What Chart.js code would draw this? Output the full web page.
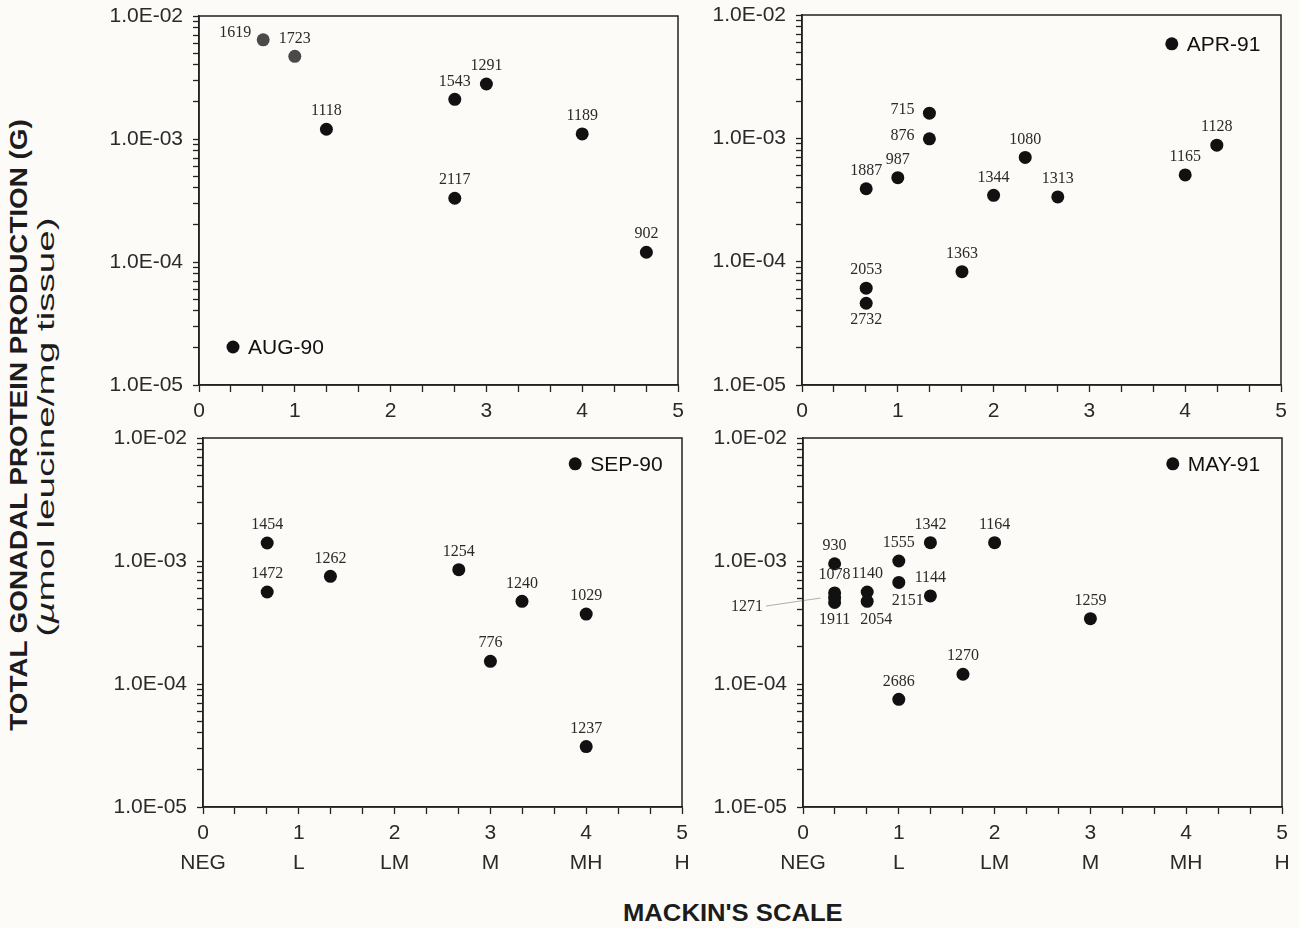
<!DOCTYPE html>
<html><head><meta charset="utf-8">
<script src="https://cdn.jsdelivr.net/npm/chart.js@4.4.1/dist/chart.umd.min.js"></script>
<style>
html,body{margin:0;padding:0;background:#fdfbf8;}
body{width:1299px;height:928px;position:relative;overflow:hidden;font-family:"Liberation Sans",Arial,sans-serif;}
.pc{position:absolute;}
.t{position:absolute;white-space:nowrap;color:#1c1c1c;left:0;top:0;}
</style></head><body>
<div id="yt1" class="t" style="font-weight:bold;font-size:24px;">TOTAL GONADAL PROTEIN PRODUCTION (G)</div>
<div id="yt2" class="t" style="font-size:24px;">(<i>µ</i>mol leucine/mg tissue)</div>
<div id="xt" class="t" style="font-weight:bold;font-size:24px;">MACKIN'S SCALE</div>
<script>
// ---------------- DATA ----------------
const xCategories = ['NEG','L','LM','M','MH','H'];
const xMajorTicks = [0,1,2,3,4,5];
const yDecades = [1e-5,1e-4,1e-3,1e-2];

const aug90Ids = ['1619','1723','1118','1543','1291','2117','1189','902'];
const aug90X   = [0.67,1,1.33,2.67,3,2.67,4,4.67];
const aug90Y   = [6.4e-3,4.7e-3,1.2e-3,2.1e-3,2.8e-3,3.3e-4,1.1e-3,1.2e-4];

const apr91Ids = ['715','876','1887','987','1344','1080','1313','1165','1128','1363','2053','2732'];
const apr91X   = [1.33,1.33,0.67,1,2,2.33,2.67,4,4.33,1.67,0.67,0.67];
const apr91Y   = [1.6e-3,9.9e-4,3.9e-4,4.8e-4,3.45e-4,7.0e-4,3.35e-4,5.05e-4,8.8e-4,8.3e-5,6.1e-5,4.6e-5];

const sep90Ids = ['1454','1472','1262','1254','1240','1029','776','1237'];
const sep90X   = [0.67,0.67,1.33,2.67,3.33,4,3,4];
const sep90Y   = [1.4e-3,5.6e-4,7.5e-4,8.5e-4,4.7e-4,3.7e-4,1.53e-4,3.1e-5];

const may91Ids = ['930','1555','1342','1164','2151','1144','1078','1271','1911','1140','2054','1259','1270','2686'];
const may91X   = [0.33,1,1.33,2,1,1.33,0.33,0.33,0.33,0.67,0.67,3,1.67,1];
const may91Y   = [9.5e-4,1.0e-3,1.41e-3,1.41e-3,6.7e-4,5.2e-4,5.5e-4,5.0e-4,4.6e-4,5.6e-4,4.7e-4,3.4e-4,1.2e-4,7.5e-5];

// ---------------- LABEL PLACEMENT (style) ----------------
const aug90LabelPos = ['al','a','a','a','a','a','a','a'];
const apr91LabelPos = ['l','l','a','a','a','a','a','a','a','a','a','b'];
const sep90LabelPos = ['a','a','a','a','a','a','a','a'];
const may91LabelPos = ['a','a','a','a','br','a','a','L','b','a','br','a','a','a'];
const dimmedPoints = ['1619','1723'];

const labelOffsets = {a:[0,-18], b:[0,17], l:[-27,-3], al:[-28,-7], br:[9,18]};

const TICK_FONT = {family:'"Liberation Sans", Arial, sans-serif', size:21};
const INK = '#222';

function decadeLabel(v){
  const e = Math.round(Math.log10(v));
  const a = Math.abs(e);
  return '1.0E' + (e<0?'-':'+') + (a<10?'0':'') + a;
}

const pointLabelPlugin = {
  id:'pointLabels',
  afterDatasetsDraw(chart){
    const ctx = chart.ctx, ds = chart.data.datasets[0], meta = chart.getDatasetMeta(0);
    ctx.save();
    ctx.font = '16px "Liberation Serif", "Times New Roman", serif';
    ctx.fillStyle = '#2a2a2a';
    ctx.textBaseline = 'middle';
    meta.data.forEach((el,i)=>{
      const p = ds.labelPos[i];
      if(p === 'L'){
        const lx = chart.chartArea.left - 40, ly = el.y + 9;
        ctx.textAlign = 'right';
        ctx.fillText(ds.ids[i], lx, ly);
        ctx.strokeStyle = '#9a9a9a'; ctx.lineWidth = 0.8;
        ctx.beginPath(); ctx.moveTo(lx+3, ly-1); ctx.lineTo(el.x-14, el.y); ctx.stroke();
      } else {
        const o = labelOffsets[p];
        ctx.textAlign = 'center';
        ctx.fillText(ds.ids[i], el.x+o[0], el.y+o[1]);
      }
    });
    ctx.restore();
  }
};

const framePlugin = {
  id:'frame',
  afterDraw(chart){
    const a = chart.chartArea, ctx = chart.ctx;
    ctx.save(); ctx.strokeStyle = INK; ctx.lineWidth = 1.5;
    ctx.strokeRect(a.left, a.top, a.right-a.left, a.bottom-a.top);
    // legend
    const o = chart.options.plugins.frame;
    const mx = a.left + o.fx*(a.right-a.left), my = a.top + o.fy*(a.bottom-a.top);
    ctx.fillStyle = '#111';
    ctx.beginPath(); ctx.arc(mx,my,6.5,0,Math.PI*2); ctx.fill();
    ctx.font = '21px "Liberation Sans", Arial, sans-serif';
    ctx.textAlign = 'left'; ctx.textBaseline = 'middle';
    ctx.fillText(o.name, mx+15, my+1);
    ctx.restore();
  }
};

const panels = [
  {name:'AUG-90', ids:aug90Ids, xs:aug90X, ys:aug90Y, pos:aug90LabelPos, area:{l:199,r:678,t:16,b:385}, legend:[0.071,0.897], cats:false},
  {name:'APR-91', ids:apr91Ids, xs:apr91X, ys:apr91Y, pos:apr91LabelPos, area:{l:802,r:1281,t:15,b:385}, legend:[0.772,0.078], cats:false},
  {name:'SEP-90', ids:sep90Ids, xs:sep90X, ys:sep90Y, pos:sep90LabelPos, area:{l:203,r:682,t:438,b:807}, legend:[0.777,0.070], cats:true},
  {name:'MAY-91', ids:may91Ids, xs:may91X, ys:may91Y, pos:may91LabelPos, area:{l:803,r:1282,t:438,b:807}, legend:[0.772,0.070], cats:true},
];

const PAD_L = 100, PAD_T = 26, PAD_R = 17, PAD_B = 75;

panels.forEach((p,k)=>{
  const div = document.createElement('div');
  div.className = 'pc';
  const w = (p.area.r - p.area.l) + PAD_L + PAD_R;
  const h = (p.area.b - p.area.t) + PAD_T + PAD_B;
  div.style.left = (p.area.l - PAD_L) + 'px';
  div.style.top = (p.area.t - PAD_T) + 'px';
  div.style.width = w + 'px'; div.style.height = h + 'px';
  const cv = document.createElement('canvas');
  cv.width = w; cv.height = h; cv.style.width = w+'px'; cv.style.height = h+'px';
  div.appendChild(cv);
  document.body.appendChild(div);

  const pts = p.xs.map((x,i)=>({x:x, y:p.ys[i]}));
  new Chart(cv, {
    type:'scatter',
    data:{datasets:[{
      data:pts, ids:p.ids, labelPos:p.pos,
      pointRadius:6.5, pointHoverRadius:6.5, borderWidth:0,
      pointBackgroundColor: p.ids.map(id => dimmedPoints.includes(id) ? '#4a4a4a' : '#111'),
      pointBorderWidth:0
    }]},
    options:{
      responsive:false, animation:false, devicePixelRatio:1,
      layout:{padding:{left:0, top:PAD_T, right:PAD_R, bottom:0}},
      plugins:{legend:{display:false}, tooltip:{enabled:false},
        frame:{name:p.name, fx:p.legend[0], fy:p.legend[1]}},
      scales:{
        x:{type:'linear', min:0, max:5,
          afterFit(s){ s.height = PAD_B; },
          afterBuildTicks(s){
            const t = [];
            for(let i=0;i<xMajorTicks.length-1;i++){
              for(let j=0;j<3;j++) t.push({value: xMajorTicks[i] + j/3});
            }
            t.push({value: xMajorTicks[xMajorTicks.length-1]});
            s.ticks = t;
          },
          grid:{drawOnChartArea:false, drawTicks:true, tickLength:7, color:INK, tickColor:INK, tickWidth:1.3},
          border:{display:true, color:INK, width:1.5},
          ticks:{autoSkip:false, maxRotation:0, padding:4, color:'#2a2a2a',
            font:Object.assign({}, TICK_FONT, {lineHeight:30/21}),
            callback(v){
              const r = Math.round(v);
              if(Math.abs(v-r) > 1e-6) return '';
              const idx = xMajorTicks.indexOf(r);
              return p.cats ? [String(r), xCategories[idx]] : String(r);
            }}
        },
        y:{type:'logarithmic', min:yDecades[0], max:yDecades[yDecades.length-1],
          afterFit(s){ s.width = PAD_L; },
          afterBuildTicks(s){
            const t = [];
            for(let i=0;i<yDecades.length-1;i++){
              for(let m=1;m<10;m++) t.push({value: yDecades[i]*m, major: m===1});
            }
            t.push({value: yDecades[yDecades.length-1], major:true});
            s.ticks = t;
          },
          grid:{drawOnChartArea:false, drawTicks:true, tickLength:6, color:INK, tickColor:INK, tickWidth:1.3},
          border:{display:true, color:INK, width:1.5},
          ticks:{autoSkip:false, padding:10, color:'#2a2a2a', font:TICK_FONT,
            callback(v){
              const l = Math.log10(v);
              return Math.abs(l-Math.round(l)) < 1e-6 ? decadeLabel(v) : '';
            }}
        }
      }
    },
    plugins:[pointLabelPlugin, framePlugin]
  });
});

// ---------------- AXIS TITLES ----------------
function place(el, cx, cy, rot, targetLen){
  const w = el.offsetWidth, h = el.offsetHeight;
  const sx = targetLen ? targetLen / w : 1;
  el.style.left = (cx - w/2) + 'px';
  el.style.top = (cy - h/2) + 'px';
  el.style.transformOrigin = '50% 50%';
  el.style.transform = (rot ? 'rotate(-90deg) ' : '') + 'scaleX(' + sx + ')';
}
place(document.getElementById('yt1'), 19, 425, true, 612);
place(document.getElementById('yt2'), 46, 427, true, 420);
place(document.getElementById('xt'), 733, 913, false, 220);
</script>
</body></html>
